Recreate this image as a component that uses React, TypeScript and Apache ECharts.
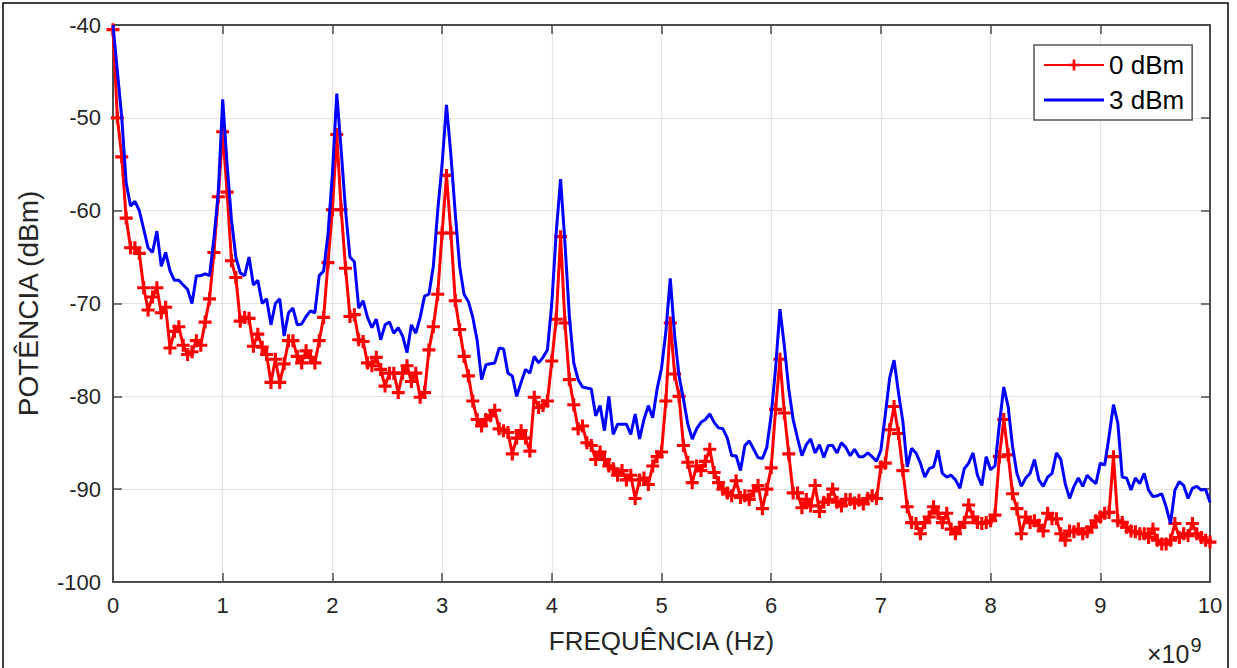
import React, { useEffect, useRef } from "react";
import * as echarts from "echarts";

// Sampling grid of the analyser trace (GHz between points)
const FREQ_STEP_GHZ = 0.04;

const X_TICKS = [0, 1, 2, 3, 4, 5, 6, 7, 8, 9, 10];
const Y_TICKS = [-100, -90, -80, -70, -60, -50, -40];

const SERIES_NAMES = ["0 dBm", "3 dBm"];

// Power (dBm), 0 dBm input – red trace with "+" markers
const power0dBm = [
  -40.5, -50, -54.2, -60.8, -64, -64, -64.6, -68.3, -70.7, -69.3,
  -68.3, -71, -70.4, -74.8, -73, -72.5, -74.5, -75.5, -75.2, -74,
  -74.5, -72, -69.5, -64.5, -58.5, -51.5, -58, -65.4, -67.2, -71.9,
  -71.5, -71.6, -74.6, -73.3, -74.7, -75.5, -78.5, -76, -78.5, -76.5,
  -74, -74, -75.7, -76.4, -75.1, -75.8, -76.4, -74, -71.5, -65.6,
  -59.9, -51.8, -59.9, -66.2, -71.4, -71.2, -73.9, -74.1, -76.4, -76.7,
  -75.8, -77.1, -78.9, -77.5, -77.5, -79.6, -77.5, -76.7, -78.4, -77.5,
  -80.1, -79.6, -75, -72.5, -69, -62.4, -56.2, -62.4, -69.7, -72.8,
  -75.7, -77.8, -80.5, -82.5, -83.2, -82.5, -82.1, -81.5, -83.5, -83.7,
  -83.9, -86.2, -84.5, -83.7, -84.5, -85.9, -80.1, -81.2, -81, -80.5,
  -76.2, -71.7, -62.8, -72.1, -78.2, -80.9, -83.5, -83.2, -85, -85.3,
  -86.8, -86, -86.8, -87.5, -87.8, -88.5, -88, -89, -88.5, -91,
  -89, -88.8, -89.5, -87.5, -86.5, -86, -80.5, -72.1, -77.6, -80,
  -85.3, -87.1, -89.3, -87.5, -88, -87, -85.7, -88.2, -89.3, -90,
  -90.4, -90.7, -89.1, -90.9, -90.7, -91.1, -90.2, -89.6, -92.1, -90,
  -87.7, -81.4, -76, -81.8, -86.2, -90.4, -90.4, -92, -91.1, -91.8,
  -89.6, -92.4, -91.4, -91.1, -90, -91.4, -91.8, -91.1, -91.1, -91.5,
  -91.2, -91.6, -91, -90.7, -91, -87.6, -87.2, -83.6, -81.1, -84,
  -88, -91.9, -93.6, -93.7, -94.8, -93.6, -93, -91.9, -92.6, -93.6,
  -92.6, -94.3, -94.8, -94.1, -93.6, -91.7, -93, -93.6, -93.7, -93.6,
  -93.4, -92.8, -86.5, -82.5, -86.3, -90.5, -92.1, -94.8, -93, -93.6,
  -93.4, -93.9, -94.5, -92.6, -93.2, -93.2, -94.8, -95.5, -94.5, -94.6,
  -94.3, -94.8, -94.6, -94.1, -93.4, -93, -92.6, -92.5, -86.5, -93.4,
  -93.6, -94.1, -94.5, -94.6, -94.8, -94.8, -95.2, -94.3, -95.5, -95.9,
  -95.9, -95.5, -93.7, -95.2, -94.8, -95, -93.7, -94.8, -95.2, -95.5,
  -95.7,
];

// Power (dBm), 3 dBm input – blue trace
const power3dBm = [
  -40, -45, -50, -57, -59.5, -59, -60, -62, -64, -64.5,
  -62.2, -66, -64.5, -66.5, -67.5, -67.5, -68, -68.5, -70, -67,
  -67, -66.8, -67, -63, -58, -48, -55, -61, -65, -66.7,
  -67, -65, -68, -67.5, -70, -69.5, -72.3, -70, -69.5, -73.5,
  -71, -70.5, -72.3, -72.2, -71.4, -70.8, -71, -67, -66.5, -62.5,
  -56, -47.4, -53.5, -60, -65, -65.5, -70.5, -69.7, -71.5, -72.6,
  -71.7, -73.9, -72.3, -72, -73.2, -72.6, -73.5, -75.3, -72.3, -73.2,
  -71.5, -69.2, -69, -66, -60, -55, -48.6, -54, -60.3, -66,
  -69, -69.8, -71.5, -74, -78.2, -76.6, -76.5, -76.4, -74.8, -74.9,
  -77.5, -77.8, -80, -78.5, -77.1, -77.5, -75.7, -76.4, -75.8, -75,
  -70, -62.4, -56.6, -63.5, -71.4, -76.4, -78.2, -79, -79.1, -79.2,
  -82.1, -81, -83.7, -80, -84.1, -83, -83, -83, -84.1, -81.9,
  -84.6, -82.5, -81, -82.3, -79.2, -77, -73, -67.3, -73.5, -77.8,
  -80.3, -83, -84.6, -83.5, -82.8, -82.5, -81.9, -82.8, -83.4, -83.5,
  -84.5, -86.4, -86.4, -88, -85.3, -84.8, -85.7, -86.6, -86.7, -85.5,
  -82, -77, -70.6, -74.6, -79.2, -82.5, -84.5, -86.4, -85.2, -84.6,
  -86.1, -85.2, -86.6, -85.3, -85.3, -86.1, -85, -85.5, -86.4, -85.7,
  -86.5, -86.5, -86.1, -86.5, -87, -85.8, -82, -78, -76.1, -79.6,
  -82.7, -87.6, -85.6, -86.1, -87.2, -88.7, -87.8, -87.6, -85.8, -88.3,
  -88.7, -88.5, -89, -89.9, -87.8, -87.2, -86.1, -88.5, -89.6, -86.5,
  -87.9, -87.5, -83, -79, -81.1, -85.4, -88.3, -89.7, -88.8, -88.3,
  -86.8, -89, -89.7, -88.7, -88.3, -86.1, -86.8, -89.4, -91, -89.7,
  -88.8, -89.7, -88.5, -89, -89.4, -87.2, -87.4, -84.3, -80.9, -82.9,
  -88.7, -88.8, -90.1, -88.8, -89.4, -88.3, -90.1, -90.8, -90.7, -90.5,
  -91.9, -93.7, -90.1, -89.2, -89.6, -91, -89.9, -89.7, -90.1, -90,
  -91.4,
];

const PLUS_SYMBOL = "path://M3.8,0H6.2V3.8H10V6.2H6.2V10H3.8V6.2H0V3.8H3.8Z";
const LINE_ICON = "path://M0,0H60V3H0Z";
const FONT = "'Liberation Sans', Arial, Helvetica, sans-serif";
const AXIS_COLOR = "#4d4d4d";
const TEXT_COLOR = "#262626";

const toPairs = (vals: number[]) =>
  vals.map((v, i) => [Number((i * FREQ_STEP_GHZ).toFixed(4)), v]);

export default function App() {
  const ref = useRef<HTMLDivElement>(null);

  useEffect(() => {
    if (!ref.current) return;
    const chart = echarts.init(ref.current, undefined, { renderer: "svg" });
    const xMin = X_TICKS[0];
    const xMax = X_TICKS[X_TICKS.length - 1];
    const yMin = Y_TICKS[0];
    const yMax = Y_TICKS[Y_TICKS.length - 1];

    const baseX = { type: "value" as const, min: xMin, max: xMax, interval: 1 };
    const baseY = { type: "value" as const, min: yMin, max: yMax, interval: 10 };
    const tick = { show: true, inside: true, length: 9, lineStyle: { color: AXIS_COLOR, width: 1.5 } };
    const line = { show: true, onZero: false, lineStyle: { color: AXIS_COLOR, width: 2 } };

    chart.setOption({
      animation: false,
      backgroundColor: "#ffffff",
      textStyle: { fontFamily: FONT },
      grid: { left: 113, right: 27, top: 25, bottom: 86, containLabel: false },
      legend: {
        show: true,
        data: [
          { name: SERIES_NAMES[0] },
          { name: SERIES_NAMES[1], icon: LINE_ICON },
        ],
        orient: "vertical",
        left: 1034,
        top: 45,
        padding: [7, 8, 7, 9],
        itemGap: 9,
        itemWidth: 60,
        itemHeight: 14,
        backgroundColor: "#ffffff",
        borderColor: "#555555",
        borderWidth: 1.5,
        borderRadius: 0,
        textStyle: { fontSize: 26, color: "#000000", fontFamily: FONT },
      },
      xAxis: [
        {
          ...baseX,
          position: "bottom",
          name: "FREQUÊNCIA (Hz)",
          nameLocation: "middle",
          nameGap: 46,
          nameTextStyle: { fontSize: 26, color: TEXT_COLOR, fontFamily: FONT },
          axisLine: line,
          axisTick: tick,
          axisLabel: { show: true, fontSize: 22, color: TEXT_COLOR, margin: 12, fontFamily: FONT },
          splitLine: { show: true, lineStyle: { color: "#e3e3e3", width: 1.2 } },
        },
        {
          ...baseX,
          position: "top",
          axisLine: line,
          axisTick: tick,
          axisLabel: { show: false },
          splitLine: { show: false },
        },
      ],
      yAxis: [
        {
          ...baseY,
          position: "left",
          name: "POTÊNCIA (dBm)",
          nameLocation: "middle",
          nameGap: 71,
          nameRotate: 90,
          nameTextStyle: { fontSize: 28, color: TEXT_COLOR, fontFamily: FONT },
          axisLine: line,
          axisTick: tick,
          axisLabel: { show: true, fontSize: 22, color: TEXT_COLOR, margin: 12, fontFamily: FONT },
          splitLine: { show: true, lineStyle: { color: "#e3e3e3", width: 1.2 } },
        },
        {
          ...baseY,
          position: "right",
          axisLine: line,
          axisTick: tick,
          axisLabel: { show: false },
          splitLine: { show: false },
        },
      ],
      graphic: [
        {
          type: "rect",
          silent: true,
          shape: { x: 3, y: 3, width: 1225, height: 680 },
          style: { fill: "none", stroke: "#000000", lineWidth: 1.5 },
        },
        {
          type: "text",
          silent: true,
          left: 1147,
          top: 635,
          style: {
            text: "{a|×10}{b|9}",
            rich: {
              a: { fontSize: 25, fill: TEXT_COLOR, fontFamily: FONT, padding: [10, 0, 0, 0] },
              b: { fontSize: 20, fill: TEXT_COLOR, fontFamily: FONT, padding: [0, 0, 8, 1] },
            },
          },
        },
      ],
      series: [
        {
          name: SERIES_NAMES[0],
          type: "line",
          xAxisIndex: 0,
          yAxisIndex: 0,
          data: toPairs(power0dBm),
          symbol: PLUS_SYMBOL,
          symbolSize: 13,
          showSymbol: true,
          showAllSymbol: true,
          clip: true,
          itemStyle: { color: "#ff0000", borderWidth: 0 },
          lineStyle: { color: "#ff0000", width: 3 },
          z: 2,
        },
        {
          name: SERIES_NAMES[1],
          type: "line",
          xAxisIndex: 0,
          yAxisIndex: 0,
          data: toPairs(power3dBm),
          symbol: "none",
          showSymbol: false,
          clip: true,
          itemStyle: { color: "#0000ff" },
          lineStyle: { color: "#0000ff", width: 3 },
          z: 3,
        },
      ],
    });

    return () => chart.dispose();
  }, []);

  return (
    <div
      ref={ref}
      style={{ position: "absolute", left: 0, top: 0, width: 1237, height: 668, background: "#fff" }}
    />
  );
}
